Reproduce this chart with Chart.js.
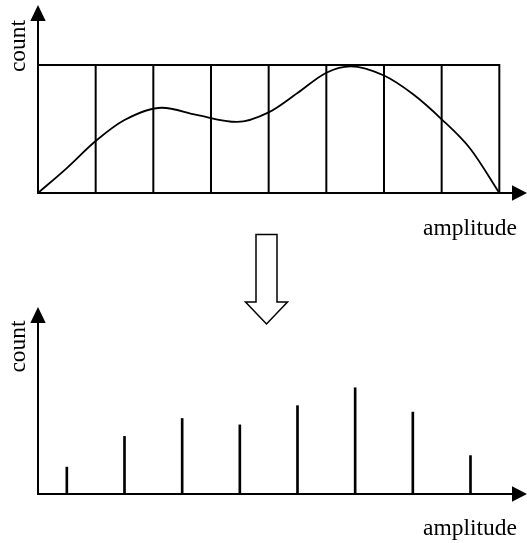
<!DOCTYPE html>
<html>
<head>
<meta charset="utf-8">
<script src="https://cdn.jsdelivr.net/npm/chart.js@4.4.1/dist/chart.umd.min.js"></script>
<style>
  html, body { margin: 0; padding: 0; background: #fff; }
  .wrap { position: relative; width: 527px; height: 543px; }
  .wrap canvas { position: absolute; left: 0; top: 0; }
</style>
</head>
<body>
<div class="wrap">
  <canvas id="histChart" width="527" height="543"></canvas>
  <canvas id="sampleChart" width="527" height="543"></canvas>
</div>
<script>
// upper chart: 8 equal bins on the amplitude axis
const binEdges = [0, 1, 2, 3, 4, 5, 6, 7, 8];
const binCounts = [10, 10, 10, 10, 10, 10, 10, 10];
// the smooth curve
const curveX = [0, 0.5, 1, 1.5, 2.15, 2.75, 3.45, 4, 4.5, 5, 5.42, 6, 6.5, 7, 7.5, 8];
const curveY = [0, 1.95, 4.06, 5.7, 6.66, 6.1, 5.55, 6.3, 7.81, 9.4, 9.9, 9.18, 7.73, 5.76, 3.44, 0];
// lower chart: one spike per bin
const sampleCounts = [2.1, 4.5, 5.9, 5.4, 6.9, 8.3, 6.4, 3.0];

const xLabel = "amplitude";
const yLabel = "count";

const FONT = "23.5px 'Liberation Serif', 'Times New Roman', serif";

// outline of the bins as one polyline: up, across, down for every bin
function binOutline() {
  const pts = [{ x: binEdges[0], y: 0 }];
  for (let i = 0; i < binCounts.length; i++) {
    pts.push({ x: binEdges[i], y: binCounts[i] });
    pts.push({ x: binEdges[i + 1], y: binCounts[i] });
    pts.push({ x: binEdges[i + 1], y: 0 });
  }
  return pts;
}

const binCenters = binCounts.map((c, i) => (binEdges[i] + binEdges[i + 1]) / 2);

// axes with arrow heads + labels, drawn on top of the data
function arrowAxes(opts) {
  return {
    id: "arrowAxes",
    afterDatasetsDraw(chart) {
      const ctx = chart.ctx;
      const area = chart.chartArea;
      const x0 = chart.scales.x.getPixelForValue(0);
      const y0 = chart.scales.y.getPixelForValue(0);
      ctx.save();
      ctx.strokeStyle = "#000";
      ctx.fillStyle = "#000";
      ctx.lineWidth = 2;
      ctx.beginPath();
      ctx.moveTo(x0 - 1, y0);
      ctx.lineTo(area.right - 12, y0);
      ctx.moveTo(x0, y0 + 1);
      ctx.lineTo(x0, area.top + 12);
      ctx.stroke();

      ctx.beginPath();
      ctx.moveTo(area.right, y0);
      ctx.lineTo(area.right - 15, y0 - 7.7);
      ctx.lineTo(area.right - 15, y0 + 7.7);
      ctx.closePath();
      ctx.fill();
      ctx.beginPath();
      ctx.moveTo(x0, area.top);
      ctx.lineTo(x0 - 7.7, area.top + 16);
      ctx.lineTo(x0 + 7.7, area.top + 16);
      ctx.closePath();
      ctx.fill();

      ctx.font = FONT;
      ctx.textAlign = "right";
      ctx.textBaseline = "alphabetic";
      ctx.fillText(xLabel, area.right - 10, y0 + opts.xLabelDy);
      ctx.save();
      ctx.translate(x0 - 13, area.top + opts.yLabelDy);
      ctx.rotate(-Math.PI / 2);
      ctx.textAlign = "center";
      ctx.fillText(yLabel, 0, 0);
      ctx.restore();

      if (opts.downArrow) {
        const a = opts.downArrow;
        ctx.lineWidth = 1.5;
        ctx.beginPath();
        ctx.moveTo(a.cx - a.shaft, a.top);
        ctx.lineTo(a.cx + a.shaft, a.top);
        ctx.lineTo(a.cx + a.shaft, a.neck);
        ctx.lineTo(a.cx + a.wing, a.neck);
        ctx.lineTo(a.cx, a.tip);
        ctx.lineTo(a.cx - a.wing, a.neck);
        ctx.lineTo(a.cx - a.shaft, a.neck);
        ctx.closePath();
        ctx.stroke();
      }
      ctx.restore();
    }
  };
}

new Chart(document.getElementById("histChart"), {
  type: "scatter",
  data: {
    datasets: [
      {
        data: curveX.map((x, i) => ({ x: x, y: curveY[i] })),
        showLine: true,
        borderColor: "#000",
        borderWidth: 1.8,
        pointRadius: 0,
        cubicInterpolationMode: "monotone",
      },
      {
        data: binOutline(),
        showLine: true,
        borderColor: "#000",
        borderWidth: 2,
        borderJoinStyle: "miter",
        pointRadius: 0,
        tension: 0,
      },
    ],
  },
  options: {
    responsive: false,
    animation: false,
    events: [],
    layout: { padding: { left: 38, right: 0, top: 5, bottom: 350 } },
    plugins: { legend: { display: false }, tooltip: { enabled: false } },
    scales: {
      x: { type: "linear", min: 0, max: 8.48, display: false },
      y: { min: 0, max: 14.69, display: false },
    },
  },
  plugins: [arrowAxes({ xLabelDy: 42, yLabelDy: 41 })],
});

new Chart(document.getElementById("sampleChart"), {
  type: "bar",
  data: {
    datasets: [
      {
        data: binCenters.map((x, i) => ({ x: x, y: sampleCounts[i] })),
        backgroundColor: "#000",
        borderWidth: 0,
        barThickness: 2,
      },
    ],
  },
  options: {
    responsive: false,
    animation: false,
    events: [],
    layout: { padding: { left: 38, right: 0, top: 307, bottom: 49 } },
    plugins: { legend: { display: false }, tooltip: { enabled: false } },
    scales: {
      x: { type: "linear", min: 0, max: 8.48, offset: false, display: false },
      y: { min: 0, max: 14.61, display: false },
    },
  },
  plugins: [
    arrowAxes({
      xLabelDy: 41,
      yLabelDy: 39.5,
      downArrow: { cx: 266.5, shaft: 10.5, wing: 21, top: 234.5, neck: 302, tip: 324 },
    }),
  ],
});
</script>
</body>
</html>
